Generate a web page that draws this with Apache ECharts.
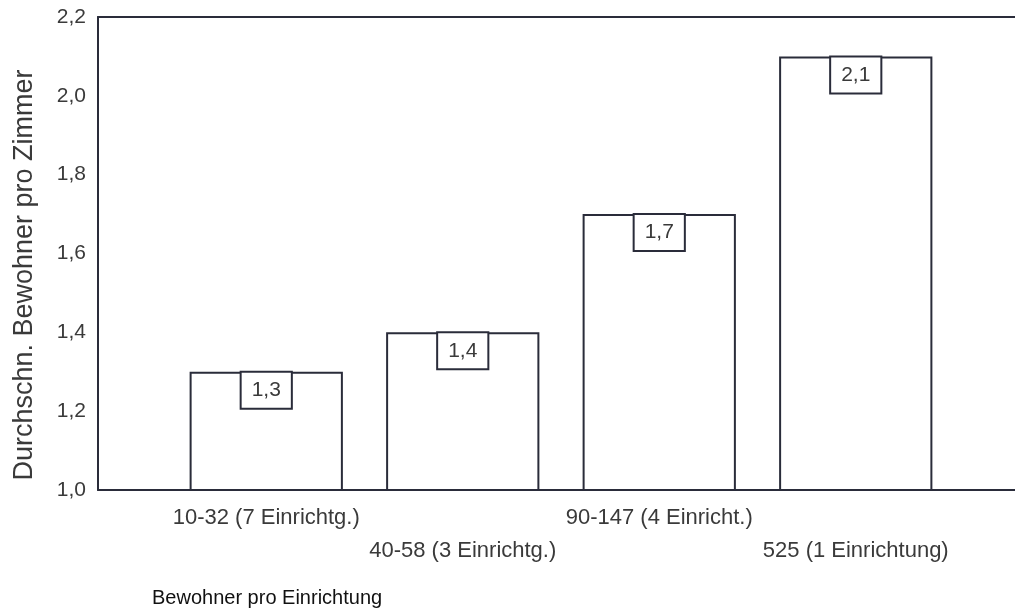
<!DOCTYPE html>
<html>
<head>
<meta charset="utf-8">
<script src="https://cdn.jsdelivr.net/npm/echarts@6/dist/echarts.min.js"></script>
<style>
  html, body { margin: 0; padding: 0; background: #ffffff; }
  #chart { width: 1015px; height: 612px; }
</style>
</head>
<body>
<div id="chart"></div>
<script>
// Residents per facility group and average residents per room
const categories = [
  '10-32 (7 Einrichtg.)',
  '40-58 (3 Einrichtg.)',
  '90-147 (4 Einricht.)',
  '525 (1 Einrichtung)'
];
const residentsPerRoom = [1.3, 1.4, 1.7, 2.1];
const yTicks = { min: 1.0, max: 2.2, step: 0.2 };
const yTitle = 'Durchschn. Bewohner pro Zimmer';
const xTitle = 'Bewohner pro Einrichtung';

const fmt = v => v.toFixed(1).replace('.', ',');
const FONT = '"Liberation Sans", Arial, Helvetica, sans-serif';
const LINE = '#2a2c3a';
const TEXT = '#3a3a3a';

const chart = echarts.init(document.getElementById('chart'), null, { renderer: 'canvas' });

chart.setOption({
  backgroundColor: '#ffffff',
  animation: false,
  title: {
    text: xTitle,
    left: 147,
    top: 583,
    textStyle: { fontFamily: FONT, fontSize: 20, fontWeight: 'normal', color: '#111' }
  },
  graphic: [{
    type: 'text',
    x: 25,
    y: 275,
    rotation: Math.PI / 2,
    style: {
      text: yTitle,
      fontFamily: FONT,
      fontSize: 27,
      fill: TEXT,
      textAlign: 'center',
      textVerticalAlign: 'middle'
    }
  }],
  grid: [
    // outer frame with the value scale
    { left: 98, right: -2, top: 17, bottom: 122 },
    // inner band holding the bars
    { left: 168, right: 61, top: 17, bottom: 122 }
  ],
  xAxis: [
    {
      gridIndex: 0, type: 'value', position: 'bottom', min: 0, max: 1,
      axisLine: { show: true, lineStyle: { color: LINE, width: 2 } },
      axisTick: { show: false }, axisLabel: { show: false }, splitLine: { show: false }
    },
    {
      gridIndex: 0, type: 'value', position: 'top', min: 0, max: 1,
      axisLine: { show: true, lineStyle: { color: LINE, width: 2 } },
      axisTick: { show: false }, axisLabel: { show: false }, splitLine: { show: false }
    },
    {
      gridIndex: 1, type: 'category', data: categories, position: 'bottom',
      axisLine: { show: false }, axisTick: { show: false },
      axisLabel: {
        interval: 0,
        margin: 17,
        formatter: (v, i) => (i % 2 === 0 ? '{a|' + v + '}' : '{b|' + v + '}'),
        rich: {
          a: { fontFamily: FONT, fontSize: 22, color: TEXT },
          b: { fontFamily: FONT, fontSize: 22, color: TEXT, padding: [33, 0, 0, 0] }
        }
      }
    }
  ],
  yAxis: [
    {
      gridIndex: 0, type: 'value',
      min: yTicks.min, max: yTicks.max, interval: yTicks.step,
      axisLine: { show: true, lineStyle: { color: LINE, width: 2 } },
      axisTick: { show: false },
      splitLine: { show: false },
      axisLabel: {
        formatter: fmt,
        margin: 12,
        fontFamily: FONT, fontSize: 21, color: TEXT
      }
    },
    {
      gridIndex: 1, type: 'value',
      min: yTicks.min, max: yTicks.max, interval: yTicks.step,
      show: false
    }
  ],
  series: [{
    type: 'bar',
    xAxisIndex: 2,
    yAxisIndex: 1,
    data: residentsPerRoom,
    barWidth: '78%',
    itemStyle: { color: '#ffffff', borderColor: LINE, borderWidth: 2 },
    label: {
      show: true,
      position: 'insideTop',
      distance: 1,
      formatter: p => fmt(p.value),
      fontFamily: FONT,
      fontSize: 21,
      color: TEXT,
      backgroundColor: '#ffffff',
      borderColor: LINE,
      borderWidth: 2,
      padding: [7, 10, 7, 10]
    }
  }]
});
</script>
</body>
</html>
